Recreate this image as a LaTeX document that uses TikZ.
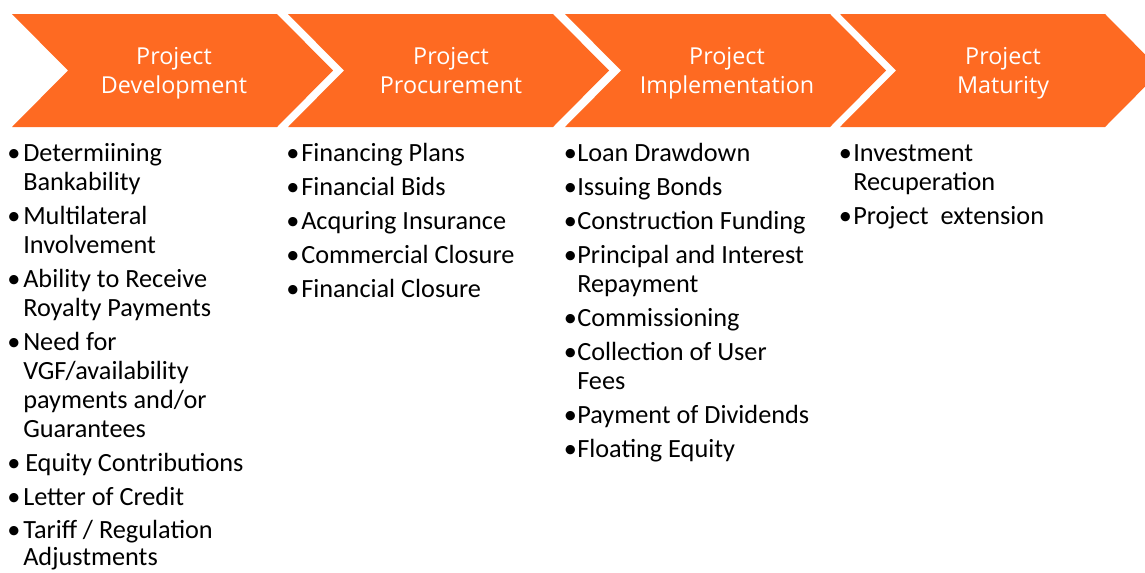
\documentclass[tikz,border=0pt]{standalone}
\usepackage{fontspec}
\setmainfont{Carlito}
\newfontfamily\titlefont{Open Sans}
\definecolor{chev}{RGB}{254,106,34}
\begin{document}
\begin{tikzpicture}[x=0.75pt,y=-0.75pt,
  chevron/.style={fill=chev,draw=none},
  title/.style={font=\titlefont\fontsize{17.5}{21}\selectfont, text=white, anchor=base, inner sep=0pt},
  item/.style={font=\fontsize{19.7}{23}\selectfont, anchor=base west, inner sep=0pt},
  bul/.style={font=\fontsize{19.7}{23}\selectfont, anchor=base, inner sep=0pt}]
\useasboundingbox (0,0) rectangle (1145,572);
\clip (0,0) rectangle (1145,572);
% chevrons
\foreach \L in {12,288,565,840}{
  \fill[chevron] (\L,14) -- (\L+265,14) -- (\L+321,70.5) -- (\L+265,127) -- (\L,127) -- (\L+56,70.5) -- cycle;
}
% titles
\node[title] (t1a) at (174,64) {Project};
\node[title] (t1b) at (174,93) {Development};
\node[title] (t2a) at (451,64) {Project};
\node[title] (t2b) at (451,93) {Procurement};
\node[title] (t3a) at (727,64) {Project};
\node[title] (t3b) at (727,93) {Implementation};
\node[title] (t4a) at (1003,64) {Project};
\node[title] (t4b) at (1003,93) {Maturity};
% column 1
\foreach \y in {161,224,287,350,471,505,538}{ \node[bul] at (14,\y) {•}; }
\node[item] (a1) at (23,161) {Determiining};
\node[item] (a2) at (23,190) {Bankability};
\node[item] (a3) at (23,224) {Multilateral};
\node[item] (a4) at (23,253) {Involvement};
\node[item] (a5) at (23,287) {Ability to Receive};
\node[item] (a6) at (23,316) {Royalty Payments};
\node[item] (a7) at (23,350) {Need for};
\node[item] (a8) at (23,379) {VGF/availability};
\node[item] (a9) at (23,408) {payments and/or};
\node[item] (a10) at (23,437) {Guarantees};
\node[item] (a11) at (25,471) {Equity Contributions};
\node[item] (a12) at (23,505) {Letter of Credit};
\node[item] (a13) at (23,538) {Tariff / Regulation};
\node[item] (a14) at (23,565.5) {Adjustments};
% column 2
\foreach \y in {161,195,229,263,297}{ \node[bul] at (293,\y) {•}; }
\node[item] (b1) at (301,161) {Financing Plans};
\node[item] (b2) at (301,195) {Financial Bids};
\node[item] (b3) at (301,229) {Acquring Insurance};
\node[item] (b4) at (301,263) {Commercial Closure};
\node[item] (b5) at (301,297) {Financial Closure};
% column 3
\foreach \y in {161,195,229,263,326,360,423,457}{ \node[bul] at (570.5,\y) {•}; }
\node[item] (c1) at (577,161) {Loan Drawdown};
\node[item] (c2) at (577,195) {Issuing Bonds};
\node[item] (c3) at (577,229) {Construction Funding};
\node[item] (c4) at (577,263) {Principal and Interest};
\node[item] (c5) at (577,292) {Repayment};
\node[item] (c6) at (577,326) {Commissioning};
\node[item] (c7) at (577,360) {Collection of User};
\node[item] (c8) at (577,389) {Fees};
\node[item] (c9) at (577,423) {Payment of Dividends};
\node[item] (c10) at (577,457) {Floating Equity};
% column 4
\foreach \y in {161,224}{ \node[bul] at (845.5,\y) {•}; }
\node[item] (d1) at (853,161) {Investment};
\node[item] (d2) at (853,190) {Recuperation};
\node[item] (d3) at (853,224) {Project\ \ extension};
\end{tikzpicture}
\end{document}
